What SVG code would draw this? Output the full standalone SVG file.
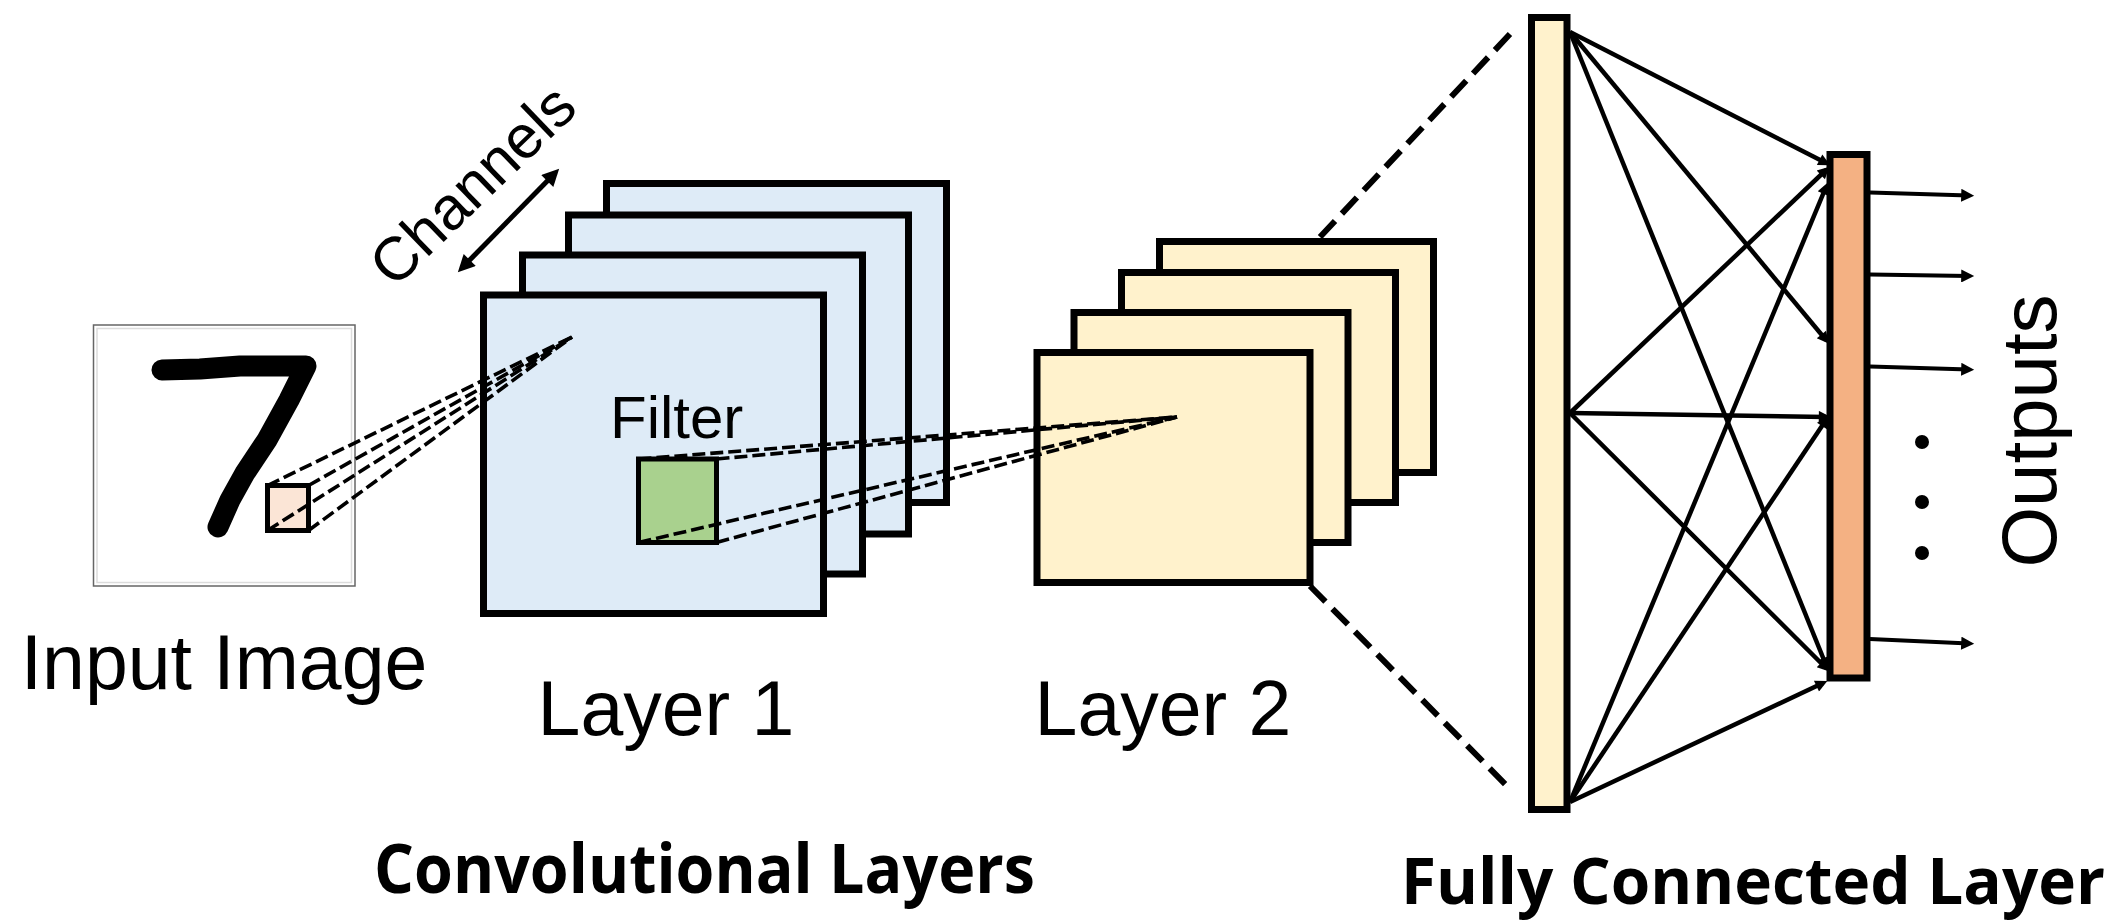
<svg xmlns="http://www.w3.org/2000/svg" width="2119" height="922" viewBox="0 0 2119 922">
  <style>
    .lbl { font-family: "Liberation Sans", Arial, sans-serif; fill: #000; }
    .bold { font-family: "Open Sans", "Noto Sans", sans-serif; font-weight: 700; fill: #000; }
    .l1 { fill: #DEEBF7; stroke: #000; stroke-width: 7; }
    .l2 { fill: #FFF2CC; stroke: #000; stroke-width: 7; }
    .thin-dash { fill: none; stroke: #000; stroke-width: 3.6; stroke-dasharray: 13 5; }
    .thick-dash { fill: none; stroke: #000; stroke-width: 6; stroke-dasharray: 22 10; }
    .fc { fill: none; stroke: #000; stroke-width: 4.5; marker-end: url(#ah); }
    .out { fill: none; stroke: #000; stroke-width: 4; marker-end: url(#ah-out); }
  </style>
  <defs>
    <marker id="ah" viewBox="0 0 10 10" refX="6" refY="5" markerWidth="17" markerHeight="12" markerUnits="userSpaceOnUse" orient="auto">
      <path d="M0,0 L10,5 L0,10 z" fill="#000"/>
    </marker>
    <marker id="ah-out" viewBox="0 0 10 10" refX="6" refY="5" markerWidth="17" markerHeight="13" markerUnits="userSpaceOnUse" orient="auto">
      <path d="M0,0 L10,5 L0,10 z" fill="#000"/>
    </marker>
    <marker id="ah-ch" viewBox="0 0 10 10" refX="6" refY="5" markerWidth="21" markerHeight="17" markerUnits="userSpaceOnUse" orient="auto-start-reverse">
      <path d="M0,0 L10,5 L0,10 z" fill="#000"/>
    </marker>
  </defs>

  <rect width="2119" height="922" fill="#fff"/>

  <!-- input image: handwritten digit with the receptive field patch -->
  <g id="input-image">
    <rect x="93.5" y="325" width="261.5" height="261" fill="#fff" stroke="#666" stroke-width="1.5"/>
    <rect x="97" y="328.5" width="254.5" height="254" fill="none" stroke="#dcdcdc" stroke-width="1.5"/>
    <path d="M162,370 L200,369 L240,366 L306,366 L289,400 L267,440 L245,473 L230,500 L218,527" fill="none" stroke="#000" stroke-width="21" stroke-linecap="round" stroke-linejoin="round"/>
    <rect x="267.5" y="485.5" width="41" height="45" fill="#FBE5D6" stroke="#000" stroke-width="5"/>
    <text class="lbl" x="224" y="689" font-size="77" text-anchor="middle">Input Image</text>
  </g>

  <!-- convolutional layer 1: stacked feature maps -->
  <g id="layer1">
    <rect class="l1" x="606.5" y="183.5" width="340" height="319"/>
    <rect class="l1" x="568.5" y="215" width="340" height="319"/>
    <rect class="l1" x="522.5" y="255" width="340" height="319"/>
    <rect class="l1" x="483.5" y="295" width="340" height="318.5"/>
    <text class="lbl" x="610" y="438" font-size="60">Filter</text>
    <rect x="638.5" y="459" width="78" height="83.5" fill="#A9D18E" stroke="#000" stroke-width="5"/>
    <text class="lbl" x="666" y="735" font-size="77" text-anchor="middle">Layer 1</text>
  </g>

  <!-- convolutional layer 2 -->
  <g id="layer2">
    <rect class="l2" x="1159.5" y="241.5" width="274" height="231"/>
    <rect class="l2" x="1121.5" y="272.5" width="274" height="230"/>
    <rect class="l2" x="1074" y="312.5" width="274" height="230"/>
    <rect class="l2" x="1037" y="352.5" width="273" height="230"/>
    <text class="lbl" x="1163" y="735" font-size="77" text-anchor="middle">Layer 2</text>
  </g>

  <!-- fully connected layer -->
  <g id="fc-layer">
    <rect x="1531.5" y="17.5" width="35.5" height="792" fill="#FFF2CC" stroke="#000" stroke-width="7"/>
  </g>

  <!-- output layer -->
  <g id="output-layer">
    <rect x="1830" y="154.5" width="37" height="523.5" fill="#F4B183" stroke="#000" stroke-width="7"/>
    <circle cx="1922" cy="442" r="7" fill="#000"/>
    <circle cx="1922" cy="502" r="7" fill="#000"/>
    <circle cx="1922" cy="553" r="7" fill="#000"/>
    <text class="lbl" transform="translate(2056,431) rotate(-90)" font-size="78" text-anchor="middle">Outputs</text>
  </g>

  <!-- channel axis -->
  <g id="channels">
    <line x1="462.6" y1="267.3" x2="554.4" y2="173.7" stroke="#000" stroke-width="5" marker-start="url(#ah-ch)" marker-end="url(#ah-ch)"/>
    <text class="lbl" transform="translate(487,200) rotate(-44)" font-size="61" text-anchor="middle">Channels</text>
  </g>

  <g id="connectors">
    <!-- receptive field: input patch to layer 1 -->
    <line class="thin-dash" x1="267.5" y1="485.5" x2="572" y2="337"/>
    <line class="thin-dash" x1="308.5" y1="485.5" x2="572" y2="337"/>
    <line class="thin-dash" x1="267.5" y1="530.5" x2="572" y2="337"/>
    <line class="thin-dash" x1="308.5" y1="530.5" x2="572" y2="337"/>
    <!-- filter to layer 2 -->
    <line class="thin-dash" x1="638.5" y1="459" x2="1177" y2="417"/>
    <line class="thin-dash" x1="716.5" y1="459" x2="1177" y2="417"/>
    <line class="thin-dash" x1="638.5" y1="542.5" x2="1177" y2="417"/>
    <line class="thin-dash" x1="716.5" y1="542.5" x2="1177" y2="417"/>
    <!-- flatten to fully connected -->
    <line class="thick-dash" x1="1320" y1="237" x2="1510" y2="34"/>
    <line class="thick-dash" x1="1310" y1="586" x2="1510" y2="789"/>
    <!-- dense connections -->
    <line class="fc" x1="1570" y1="32" x2="1826" y2="163"/>
    <line class="fc" x1="1570" y1="32" x2="1826" y2="340"/>
    <line class="fc" x1="1570" y1="32" x2="1826" y2="665"/>
    <line class="fc" x1="1570" y1="413" x2="1826" y2="170"/>
    <line class="fc" x1="1570" y1="413" x2="1826" y2="417"/>
    <line class="fc" x1="1570" y1="413" x2="1826" y2="668"/>
    <line class="fc" x1="1570" y1="802" x2="1826" y2="187"/>
    <line class="fc" x1="1570" y1="802" x2="1826" y2="420"/>
    <line class="fc" x1="1570" y1="802" x2="1823" y2="683"/>
    <!-- outputs -->
    <line class="out" x1="1870" y1="192.5" x2="1969" y2="195.5"/>
    <line class="out" x1="1870" y1="274.5" x2="1969" y2="276"/>
    <line class="out" x1="1870" y1="366.5" x2="1969" y2="369.5"/>
    <line class="out" x1="1870" y1="639" x2="1969" y2="643.5"/>
  </g>

  <text class="bold" x="374" y="893" font-size="68" textLength="661" lengthAdjust="spacingAndGlyphs">Convolutional Layers</text>
  <text class="bold" x="1401" y="904" font-size="65" textLength="704" lengthAdjust="spacingAndGlyphs">Fully Connected Layer</text>
</svg>
